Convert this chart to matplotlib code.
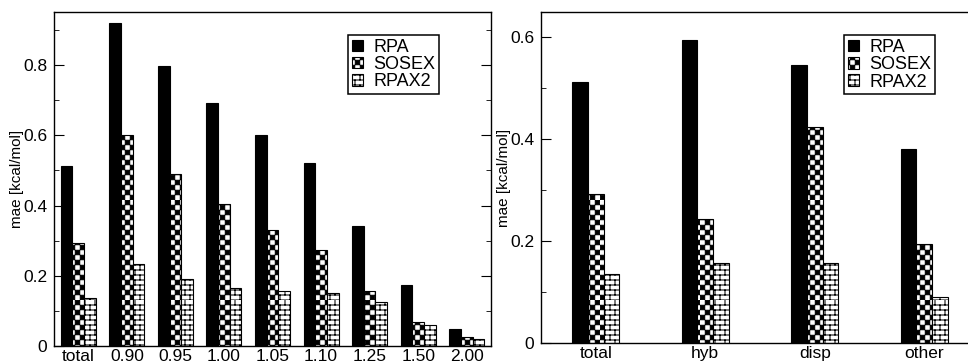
import warnings

import numpy as np
import matplotlib
matplotlib.use("Agg")
import matplotlib.pyplot as plt
import matplotlib.hatch as mhatch
from matplotlib.path import Path

warnings.filterwarnings("ignore")

# left panel: mae per distance factor
cats_left = ["total", "0.90", "0.95", "1.00", "1.05", "1.10", "1.25", "1.50", "2.00"]
rpa_left = [0.513, 0.919, 0.798, 0.693, 0.602, 0.522, 0.342, 0.174, 0.049]
sosex_left = [0.293, 0.601, 0.491, 0.403, 0.331, 0.273, 0.156, 0.069, 0.025]
rpax2_left = [0.137, 0.233, 0.190, 0.165, 0.156, 0.150, 0.126, 0.059, 0.020]

# right panel: mae per interaction type
cats_right = ["total", "hyb", "disp", "other"]
rpa_right = [0.512, 0.594, 0.545, 0.380]
sosex_right = [0.293, 0.244, 0.423, 0.195]
rpax2_right = [0.136, 0.156, 0.156, 0.090]

series_names = ["RPA", "SOSEX", "RPAX2"]


# xmgrace-like fill patterns registered as extra hatch types
class CheckerHatch(mhatch.HatchPatternBase):
    n = 20

    def __init__(self, hatch, density):
        self.on = 'c' in hatch
        self.num_vertices = (self.n * self.n // 2) * 5 if self.on else 0

    def set_vertices_and_codes(self, vertices, codes):
        s = 1.0 / self.n
        e = 0.003
        k = 0
        for i in range(self.n):
            for j in range(self.n):
                if (i + j) % 2:
                    continue
                x0, y0 = i * s + e, j * s + e
                x1, y1 = (i + 1) * s - e, (j + 1) * s - e
                vertices[k:k + 5] = [(x0, y0), (x1, y0), (x1, y1), (x0, y1), (x0, y0)]
                codes[k:k + 5] = [Path.MOVETO, Path.LINETO, Path.LINETO,
                                  Path.LINETO, Path.CLOSEPOLY]
                k += 5


class BrickHatch(mhatch.HatchPatternBase):
    rows = 20
    cols = 10

    def __init__(self, hatch, density):
        self.on = 'b' in hatch
        self.num_vertices = (self.rows + self.rows * self.cols) * 2 if self.on else 0

    def set_vertices_and_codes(self, vertices, codes):
        h = 1.0 / self.rows
        w = 1.0 / self.cols
        segs = []
        for r in range(self.rows):
            segs.append(((0.0, r * h), (1.0, r * h)))
            off = (r % 2) * w / 2
            for c in range(self.cols):
                x = c * w + off
                segs.append(((x, r * h), (x, (r + 1) * h)))
        for k, (a, b) in enumerate(segs):
            vertices[2 * k] = a
            vertices[2 * k + 1] = b
            codes[2 * k] = Path.MOVETO
            codes[2 * k + 1] = Path.LINETO


mhatch._hatch_types.extend([CheckerHatch, BrickHatch])

plt.rcParams['font.family'] = ['Liberation Sans', 'DejaVu Sans']
plt.rcParams['hatch.linewidth'] = 0.75
plt.rcParams['axes.linewidth'] = 1.0

fig = plt.figure(figsize=(9.68, 3.62), dpi=100)
ax1 = fig.add_axes([54 / 968, 1 - 346 / 362, 437 / 968, 334 / 362])
ax2 = fig.add_axes([541 / 968, 1 - 343 / 362, 438 / 968, 331 / 362])

styles = [dict(color="black", edgecolor="black"),
          dict(color="white", edgecolor="black", hatch="c"),
          dict(color="white", edgecolor="black", hatch="b")]


def draw_panel(ax, cats, data, width, ymax, anchor):
    x = np.arange(1, len(cats) + 1)
    for i, vals in enumerate(data):
        ax.bar(x + (i - 1) * width, vals, width, label=series_names[i],
               linewidth=0.8, **styles[i])
    ax.set_xlim(0.5, len(cats) + 0.5)
    ax.set_ylim(0, ymax)
    ax.set_xticks(x)
    ax.set_xticklabels(cats, fontsize=12.5)
    ax.tick_params(axis='x', length=0, pad=2)
    ax.set_yticks(np.arange(0, ymax, 0.2))
    ax.set_yticklabels(["0" if v == 0 else f"{v:.1f}" for v in np.arange(0, ymax, 0.2)],
                       fontsize=12.5)
    ax.set_yticks(np.arange(0.1, ymax, 0.2), minor=True)
    ax.tick_params(axis='y', which='major', direction='in', length=7, right=True, pad=5)
    ax.tick_params(axis='y', which='minor', direction='in', length=3.5, right=True)
    ax.set_ylabel("mae [kcal/mol]", fontsize=11, labelpad=-1)
    leg = ax.legend(loc="upper right", bbox_to_anchor=anchor, fontsize=13,
                    fancybox=False, framealpha=1, edgecolor="black",
                    handlelength=0.6, handleheight=0.6, handletextpad=0.6,
                    labelspacing=0.02, borderpad=0.2, borderaxespad=0)
    leg.get_frame().set_linewidth(1.1)


draw_panel(ax1, cats_left, [rpa_left, sosex_left, rpax2_left], 0.24, 0.951,
           (0.881, 0.931))
draw_panel(ax2, cats_right, [rpa_right, sosex_right, rpax2_right], 0.1416, 0.649,
           (0.8995, 0.930))

fig.savefig("out.png", dpi=100)
